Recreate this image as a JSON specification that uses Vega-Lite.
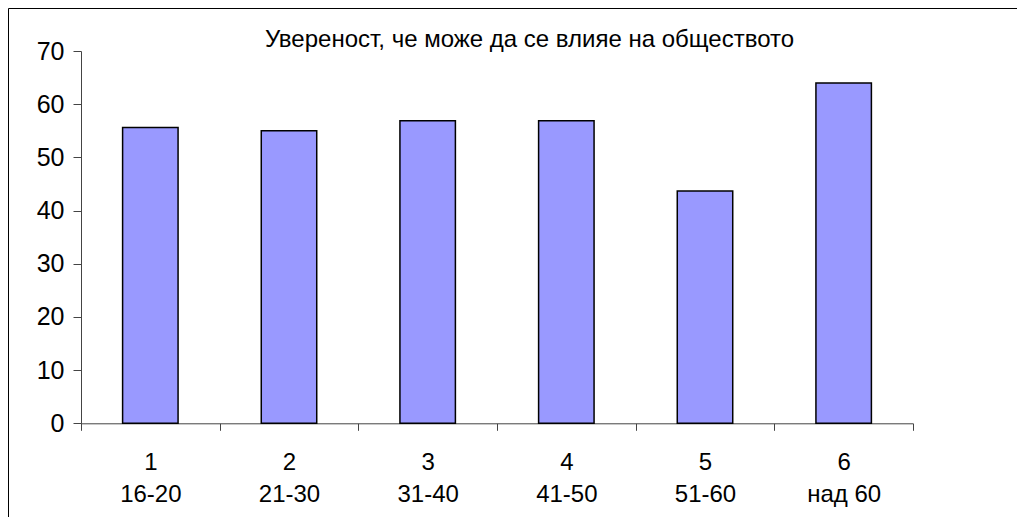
{
  "$schema": "https://vega.github.io/schema/vega-lite/v6.json",
  "autosize": {"type": "none"},
  "padding": {"left": 8, "top": 8, "right": -2, "bottom": -2},
  "width": 1011,
  "height": 511,
  "background": "white",
  "config": {
    "font": "Liberation Sans",
    "view": {"stroke": "black", "strokeWidth": 1}
  },
  "title": {
    "text": "Увереност, че може да се влияе на обществото",
    "font": "Liberation Sans",
    "fontSize": 24,
    "fontWeight": "normal",
    "color": "black",
    "anchor": "middle",
    "frame": "group",
    "baseline": "alphabetic",
    "offset": -63,
    "dx": 16
  },
  "data": {
    "values": [
      {"cat": "1|16-20", "value": 55.6},
      {"cat": "2|21-30", "value": 55.0},
      {"cat": "3|31-40", "value": 56.9},
      {"cat": "4|41-50", "value": 56.9},
      {"cat": "5|51-60", "value": 43.7},
      {"cat": "6|над 60", "value": 64.0}
    ]
  },
  "mark": {"type": "bar", "fill": "#9999ff", "stroke": "black", "strokeWidth": 1.5, "width": {"band": 0.4}},
  "encoding": {
    "x": {
      "field": "cat",
      "type": "nominal",
      "sort": null,
      "scale": {"range": [73, 905], "paddingInner": 0, "paddingOuter": 0},
      "axis": {
        "title": null,
        "orient": "bottom",
        "offset": -95.7,
        "labelAngle": 0,
        "labelExpr": "isValid(datum.value) ? split(datum.value, '|') : ''",
        "labelFontSize": 24,
        "labelLineHeight": 32,
        "labelColor": "black",
        "labelPadding": 20,
        "labelBaseline": "top",
        "tickBand": "extent",
        "tickSize": 7,
        "tickColor": "#444",
        "domainColor": "#444",
        "grid": false
      }
    },
    "y": {
      "field": "value",
      "type": "quantitative",
      "scale": {"domain": [0, 70], "nice": false, "range": [415.3, 43]},
      "axis": {
        "title": null,
        "orient": "left",
        "offset": -73,
        "values": [0, 10, 20, 30, 40, 50, 60, 70],
        "labelFontSize": 25,
        "labelColor": "black",
        "labelPadding": 9,
        "tickSize": 8,
        "tickColor": "#444",
        "domainColor": "#444",
        "grid": false
      }
    }
  }
}
